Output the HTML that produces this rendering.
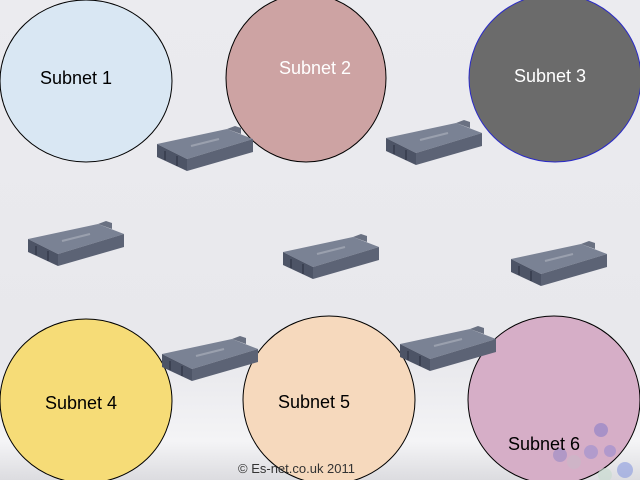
<!DOCTYPE html>
<html><head><style>
html,body{margin:0;padding:0;width:640px;height:480px;overflow:hidden}
body{background:linear-gradient(#ebebef 0%,#e8e8ec 75%,#f4f4f6 92%,#dcdce0 100%);font-family:"Liberation Sans",sans-serif}
</style></head><body>
<svg width="640" height="480" viewBox="0 0 640 480" xmlns="http://www.w3.org/2000/svg" style="position:absolute;left:0;top:0">
<defs>
<g id="r">
<polygon points="0,18 70,3 96,13 30,33" fill="#7a8294"/>
<polygon points="0,18 30,33 30,45 0,31" fill="#4d5466"/>
<polygon points="30,33 96,13 96,26 30,45" fill="#5c6375"/>
<polygon points="70,3 78,0 84,2 84,8" fill="#6a7182"/>
<line x1="34" y1="20" x2="62" y2="13" stroke="#9aa0ae" stroke-width="2"/>
<line x1="8" y1="25" x2="8" y2="34" stroke="#3b4152" stroke-width="2"/>
<line x1="20" y1="30" x2="20" y2="40" stroke="#3b4152" stroke-width="2"/>
</g>
</defs>
<g stroke="#000" stroke-width="1">
<ellipse cx="86" cy="81" rx="86" ry="81" fill="#d9e7f3"/>
<ellipse cx="306" cy="78" rx="80" ry="84" fill="#cda3a3"/>
<ellipse cx="555" cy="78" rx="86" ry="84" fill="#6b6b6b" stroke="#2a2ac8"/>
<ellipse cx="86" cy="401" rx="86" ry="82" fill="#f6dc77"/>
<ellipse cx="329" cy="400" rx="86" ry="84" fill="#f6d9bd"/>
<ellipse cx="554" cy="400" rx="86" ry="84" fill="#d6aec7"/>
</g>
<g opacity="0.6">
<circle cx="601" cy="430" r="7" fill="#8b7fc8"/>
<circle cx="591" cy="452" r="7" fill="#9b8fd0"/>
<circle cx="560" cy="455" r="7" fill="#9a8ac6"/>
<circle cx="574" cy="462" r="7" fill="#c9b9c8"/>
<circle cx="610" cy="451" r="6" fill="#9a8cd0"/>
<circle cx="625" cy="470" r="8" fill="#8a9ae0"/>
<circle cx="605" cy="475" r="7" fill="#c7dccf"/>
</g>
<g font-size="18" fill="#000">
<text x="40" y="84">Subnet 1</text>
<text x="279" y="74" fill="#fff">Subnet 2</text>
<text x="514" y="82" fill="#fff">Subnet 3</text>
<text x="45" y="409">Subnet 4</text>
<text x="278" y="408">Subnet 5</text>
<text x="508" y="450">Subnet 6</text>
</g>
<text x="238" y="473" font-size="13" fill="#333">© Es-net.co.uk 2011</text>
<use href="#r" x="157" y="126"/>
<use href="#r" x="386" y="120"/>
<use href="#r" x="28" y="221"/>
<use href="#r" x="283" y="234"/>
<use href="#r" x="511" y="241"/>
<use href="#r" x="162" y="336"/>
<use href="#r" x="400" y="326"/>
</svg>
</body></html>
